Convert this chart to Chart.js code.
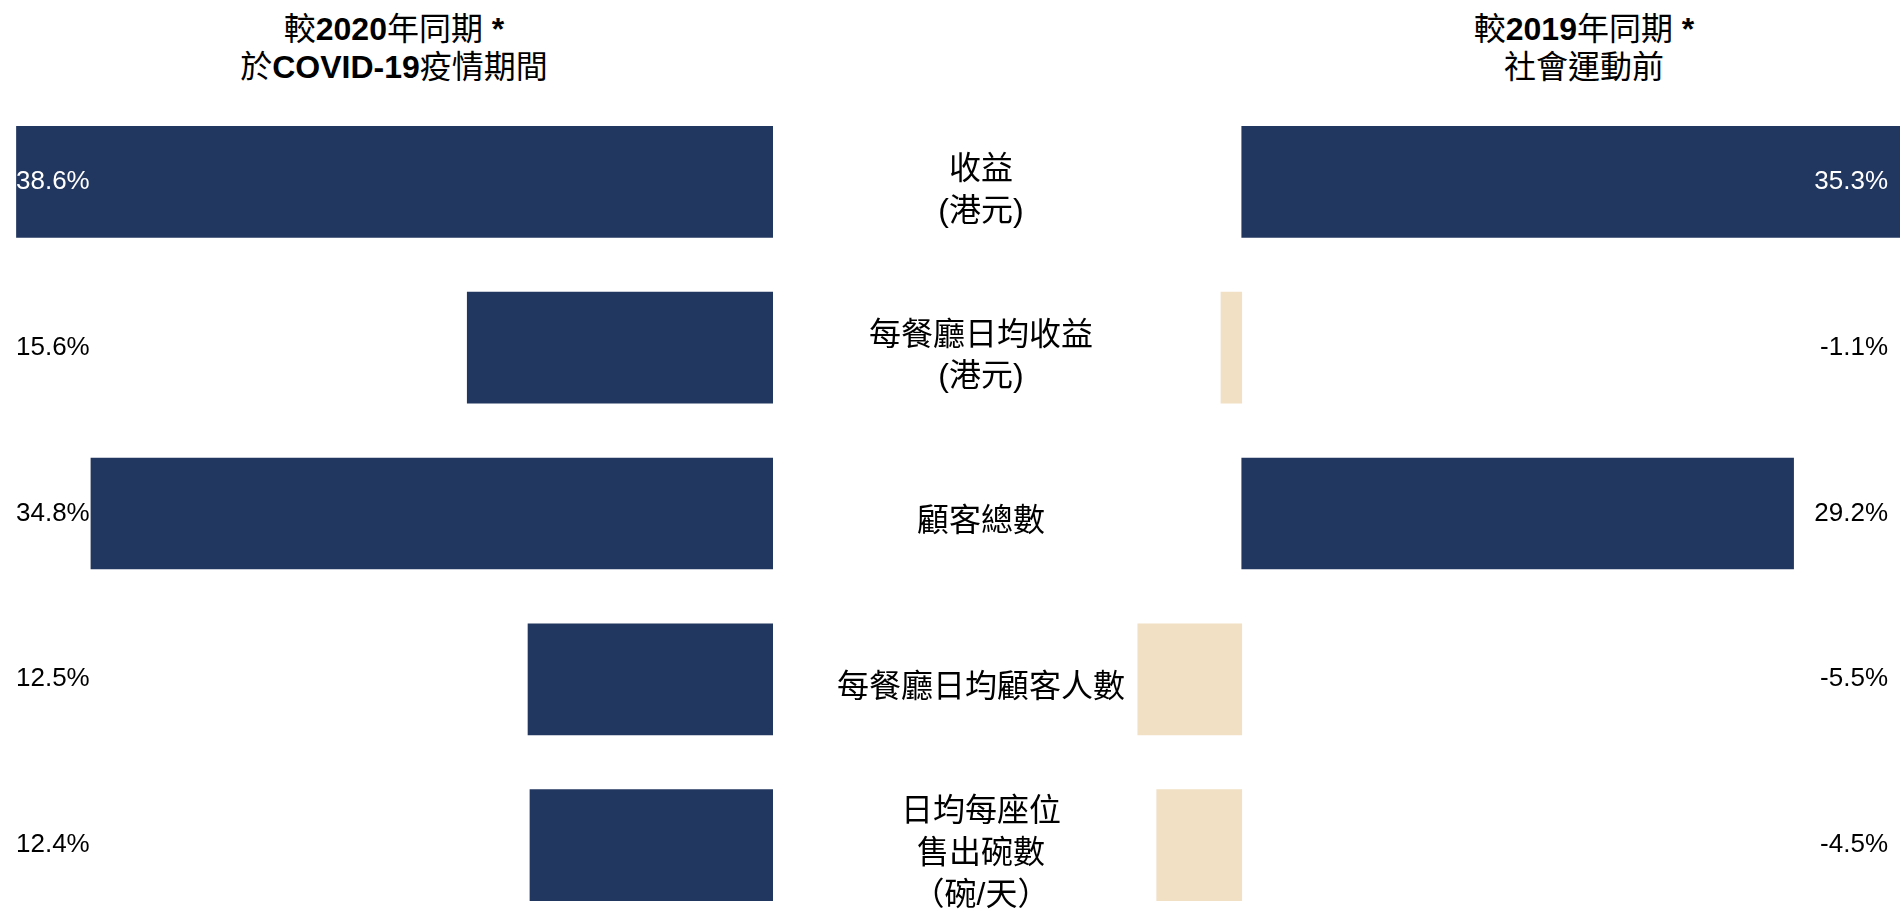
<!DOCTYPE html>
<html>
<head>
<meta charset="utf-8">
<script src="https://cdn.jsdelivr.net/npm/chart.js@4.4.1/dist/chart.umd.min.js"></script>
<style>
body { margin: 0; width: 1900px; height: 916px; overflow: hidden; background: #fff;
       font-family: "Liberation Sans", "Noto Sans CJK TC", sans-serif; }
.titulo { position: absolute; top: 10px; width: 500px; text-align: center; font-size: 32px; line-height: 38px; color: #000; }
#tituloEsq { left: 144px; }
#tituloDir { left: 1334px; }
#graficoEsq { position: absolute; left: 0; top: 99px; }
#graficoDir { position: absolute; left: 1100px; top: 99px; }
</style>
</head>
<body>
<div class="titulo" id="tituloEsq">較<b>2020</b>年同期 <b>*</b><br>於<b>COVID-19</b>疫情期間</div>
<div class="titulo" id="tituloDir">較<b>2019</b>年同期 <b>*</b><br>社會運動前</div>
<canvas id="graficoEsq" width="1193" height="829"></canvas>
<canvas id="graficoDir" width="800" height="829"></canvas>
<script>
// dados
var categorias = [['收益', '(港元)'], ['每餐廳日均收益', '(港元)'], '顧客總數', '每餐廳日均顧客人數', ['日均每座位', '售出碗數', '（碗/天）']];
var variacao2020 = [38.6, 15.6, 34.8, 12.5, 12.4];
var variacao2019 = [35.3, -1.1, 29.2, -5.5, -4.5];

var azul = '#22375F';
var bege = '#F1E0C4';
var fonte = '"Liberation Sans", "Noto Sans CJK TC", sans-serif';

// rótulos de valor nas pontas
var rotulosPlugin = {
    id: 'rotulos',
    afterDatasetsDraw: function(chart, args, opts) {
        var ctx = chart.ctx;
        var meta = chart.getDatasetMeta(0);
        var xTexto = opts.lado == 'left' ? chart.chartArea.left + 16 : chart.chartArea.right - 12;
        ctx.save();
        ctx.font = '26px ' + fonte;
        ctx.textBaseline = 'middle';
        ctx.textAlign = opts.lado;
        meta.data.forEach(function(barra, i) {
            var texto = chart.data.datasets[0].data[i].toFixed(1) + '%';
            var meio = ctx.measureText(texto).width / 2;
            var dentro = opts.lado == 'left' ? barra.x < xTexto + meio : barra.x > xTexto - meio;
            ctx.fillStyle = dentro ? '#fff' : '#000';
            ctx.fillText(texto, xTexto, barra.y);
        });
        ctx.restore();
    }
};

new Chart(document.getElementById('graficoEsq'), {
    type: 'bar',
    data: {
        labels: categorias,
        datasets: [{
            data: variacao2020,
            backgroundColor: azul,
            barThickness: 111
        }]
    },
    plugins: [rotulosPlugin],
    options: {
        indexAxis: 'y',
        responsive: false,
        animation: false,
        layout: { padding: 0 },
        plugins: {
            legend: { display: false },
            tooltip: { enabled: false },
            rotulos: { lado: 'left' }
        },
        scales: {
            x: { reverse: true, min: 0, max: 39.44, display: false },
            y: {
                position: 'right',
                grid: { display: false },
                border: { display: false },
                ticks: {
                    color: '#000',
                    font: { size: 32, family: fonte, lineHeight: 1.3 },
                    crossAlign: 'center',
                    padding: 56,
                    labelOffset: 9,
                    autoSkip: false
                },
                afterFit: function(escala) {
                    escala.width = 420;
                    escala.paddingTop = 0;
                    escala.paddingBottom = 0;
                }
            }
        }
    }
});

new Chart(document.getElementById('graficoDir'), {
    type: 'bar',
    data: {
        labels: categorias,
        datasets: [{
            data: variacao2019,
            backgroundColor: variacao2019.map(function(v) { return v < 0 ? bege : azul; }),
            barThickness: 111
        }]
    },
    plugins: [rotulosPlugin],
    options: {
        indexAxis: 'y',
        responsive: false,
        animation: false,
        layout: { padding: 0 },
        plugins: {
            legend: { display: false },
            tooltip: { enabled: false },
            rotulos: { lado: 'right' }
        },
        scales: {
            x: { min: -7.5, max: 34.83, display: false },
            y: { display: false }
        }
    }
});
</script>
</body>
</html>
